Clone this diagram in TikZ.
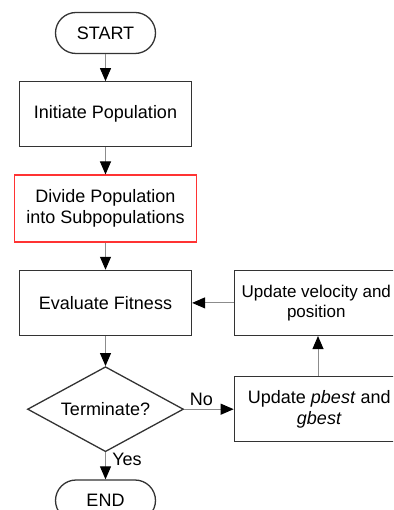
\documentclass[tikz,border=0pt]{standalone}
\usepackage{fontspec}
\setmainfont{Liberation Sans}
\usetikzlibrary{arrows.meta, positioning, shapes.geometric}
\colorlet{boxline}{black!80}
\colorlet{arrowline}{black!45}

\begin{document}
\begin{tikzpicture}[x=1pt, y=-1pt,
    font=\fontsize{18}{21}\selectfont,
    term/.style = {rectangle, rounded corners=20.5pt, minimum width=100pt, minimum height=41pt, draw=boxline, line width=1.3pt, fill=white},
    proc/.style = {rectangle, minimum width=172pt, minimum height=65pt, align=center, draw=boxline, line width=1.3pt, fill=white},
    dec/.style = {diamond, aspect=1.8, inner sep=0pt, minimum width=156pt, minimum height=85pt, draw=boxline, line width=1.3pt, fill=white},
    flow/.style = {draw=arrowline, line width=1pt, -{Triangle[length=13pt, width=11pt, color=black]}},
    node distance=27pt]
        \useasboundingbox (0,0) rectangle (393,510);
        \clip (0,0) rectangle (393,510); % picture is cut at the border
        \node[term] (n1) at (105.5,33) {START};
        \node[proc, below=of n1] (n2) {Initiate Population};
        \node[proc, below=of n2, draw=red!80, minimum width=182pt, minimum height=67pt] (n3) {Divide Population\\into Subpopulations};
        \node[proc, below=of n3] (n4) {Evaluate Fitness};
        \node[dec, below=30pt of n4] (n5) {Terminate?};
        \node[term, below=of n5] (n6) {END};
        \node[proc, right=41.5pt of n4, minimum width=164pt, font=\fontsize{17}{20}\selectfont] (n7) {Update velocity and\\position};
        \node[proc, below=40pt of n7.south west, anchor=north west, minimum width=170pt] (n8) {Update \textit{pbest} and\\\textit{gbest}};
        \path (n1) edge[flow] (n2);
        \path (n2) edge[flow] (n3);
        \path (n3) edge[flow] (n4);
        \path (n4) edge[flow] (n5);
        \path (n5) edge[flow] node[near start, right, xshift=3pt] {Yes} (n6);
        \path (n5.east) edge[flow] node[pos=0.35, above] {No} (n5.east -| n8.west);
        \path (n8.north -| 318,0) edge[flow] (n7.south -| 318,0);
        \path (n7) edge[flow] (n4);
\end{tikzpicture}
\end{document}
